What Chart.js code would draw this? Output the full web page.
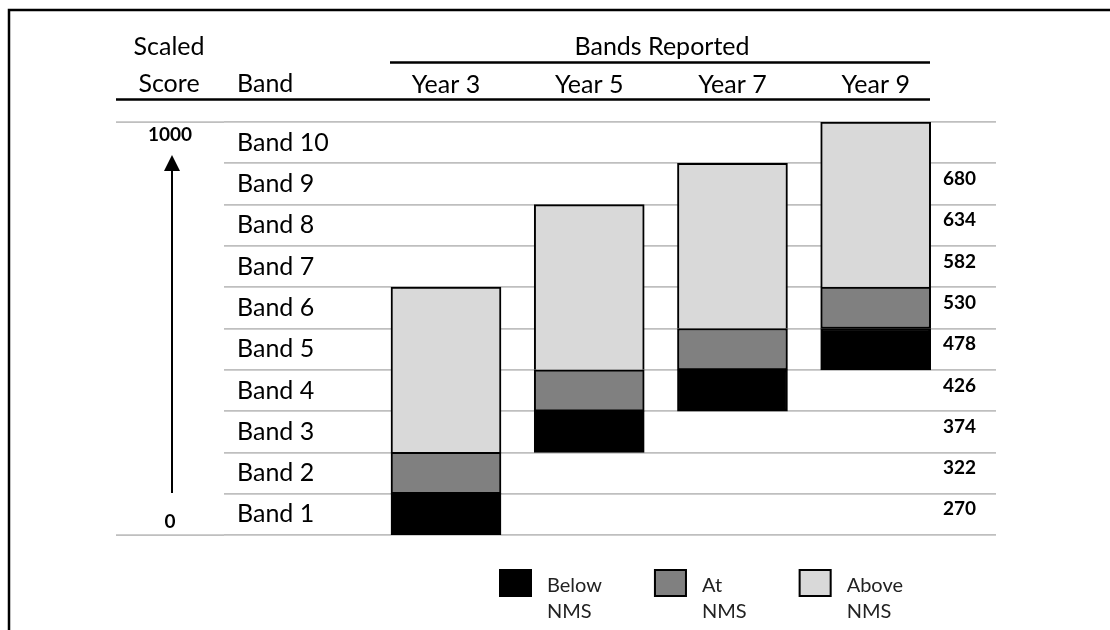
<!DOCTYPE html>
<html>
<head>
<meta charset="utf-8">
<script src="https://cdn.jsdelivr.net/npm/chart.js@4.4.1/dist/chart.umd.min.js"></script>
<style>
  html, body { margin: 0; padding: 0; background: #fff; }
  #wrap { width: 1110px; height: 630px; position: relative; }
</style>
</head>
<body>
<div id="wrap"><canvas id="bandsChart"></canvas></div>
<script>
// year levels and the bands each one reports
const yearLevels = [3, 5, 7, 9];
const yearLabels = ["Year 3", "Year 5", "Year 7", "Year 9"];
const belowBand = [1, 3, 4, 5];    // band below the NMS
const nmsBand = [2, 4, 5, 6];      // the NMS band
const topBand = [6, 8, 9, 10];     // highest band reported
const bandLabels = ["Band 1", "Band 2", "Band 3", "Band 4", "Band 5",
  "Band 6", "Band 7", "Band 8", "Band 9", "Band 10"];
const cutScores = ["270", "322", "374", "426", "478", "530", "582", "634", "680", ""];
const scaleEnds = ["0", "1000"];
const seriesLabels = ["Below NMS", "At NMS", "Above NMS"];
const seriesColors = ["#000000", "#808080", "#d9d9d9"];

const FONT = "Lato";

// extra drawing: frame, header rows, scale arrow and the legend
const decor = {
  id: "decor",
  afterDraw(chart) {
    const { ctx, chartArea: ca, scales } = chart;
    const y = scales.y;
    const yTop = y.getPixelForValue(10);
    const yBot = y.getPixelForValue(0);
    ctx.save();

    // frame
    ctx.strokeStyle = "#000";
    ctx.lineWidth = 2.5;
    ctx.beginPath();
    ctx.moveTo(9, 630);
    ctx.lineTo(9, 10);
    ctx.lineTo(1110, 10);
    ctx.stroke();

    // header rules
    ctx.lineWidth = 2.5;
    ctx.beginPath();
    ctx.moveTo(390, 62.5);
    ctx.lineTo(930, 62.5);
    ctx.moveTo(116, 99.5);
    ctx.lineTo(930, 99.5);
    ctx.stroke();

    // first and last grid lines run out under the score column
    ctx.strokeStyle = "#bfbfbf";
    ctx.lineWidth = 1.75;
    ctx.beginPath();
    [yTop, yBot].forEach(p => { ctx.moveTo(116, p); ctx.lineTo(ca.left, p); });
    ctx.stroke();

    // header text
    ctx.fillStyle = "#000";
    ctx.font = "25px " + FONT;
    ctx.textBaseline = "alphabetic";
    ctx.textAlign = "center";
    ctx.fillText("Scaled", 169, 55);
    ctx.fillText("Score", 169, 92);
    ctx.fillText("Bands Reported", 662, 55);
    ctx.textAlign = "left";
    ctx.fillText("Band", 237, 92);

    // score arrow
    ctx.font = "bold 19px " + FONT;
    ctx.textAlign = "center";
    ctx.textBaseline = "middle";
    ctx.fillText(scaleEnds[1], 170, yTop + 13);
    ctx.fillText(scaleEnds[0], 170, yBot - 13);
    ctx.strokeStyle = "#000";
    ctx.lineWidth = 2;
    ctx.beginPath();
    ctx.moveTo(172, yBot - 42);
    ctx.lineTo(172, yTop + 45);
    ctx.stroke();
    ctx.beginPath();
    ctx.moveTo(172, yTop + 33);
    ctx.lineTo(164, yTop + 49);
    ctx.lineTo(180, yTop + 49);
    ctx.closePath();
    ctx.fill();

    // legend
    let lx = 499;
    const ly = 569;
    ctx.font = "20px " + FONT;
    ctx.textAlign = "left";
    chart.data.datasets.forEach(ds => {
      ctx.fillStyle = ds.backgroundColor;
      ctx.fillRect(lx, ly, 33, 28);
      ctx.strokeStyle = "#000";
      ctx.lineWidth = 2;
      ctx.strokeRect(lx + 1, ly + 1, 31, 26);
      const lines = ds.label.split(" ");
      ctx.fillStyle = "#222";
      let w = 0;
      lines.forEach((t, k) => {
        ctx.fillText(t, lx + 48, ly + 17 + k * 26);
        w = Math.max(w, ctx.measureText(t).width);
      });
      lx += 48 + w + 52;
    });

    ctx.restore();
  }
};

const ctx = document.getElementById("bandsChart").getContext("2d");

new Chart(ctx, {
  type: "bar",
  data: {
    datasets: [
      {
        label: seriesLabels[0],
        data: yearLevels.map((x, i) => ({ x, y: [belowBand[i] - 1, belowBand[i]] })),
        backgroundColor: seriesColors[0],
        borderColor: "#000",
        borderWidth: 2
      },
      {
        label: seriesLabels[1],
        data: yearLevels.map((x, i) => ({ x, y: [nmsBand[i] - 1, nmsBand[i]] })),
        backgroundColor: seriesColors[1],
        borderColor: "#000",
        borderWidth: 2
      },
      {
        label: seriesLabels[2],
        data: yearLevels.map((x, i) => ({ x, y: [nmsBand[i], topBand[i]] })),
        backgroundColor: seriesColors[2],
        borderColor: "#000",
        borderWidth: { top: 2, left: 2, right: 2, bottom: 0 }
      }
    ]
  },
  options: {
    responsive: true,
    maintainAspectRatio: false,
    animation: false,
    layout: { padding: { left: 224, right: 114, top: 67, bottom: 95 } },
    datasets: {
      bar: { grouped: false, barThickness: 110, borderSkipped: false }
    },
    scales: {
      x: {
        type: "linear",
        position: "top",
        offset: false,
        min: -0.1,
        max: 10.68,
        grid: { display: false, drawTicks: false },
        border: { display: false },
        afterBuildTicks: s => { s.ticks = yearLevels.map(v => ({ value: v })); },
        afterFit: s => { s.height = 55; },
        ticks: {
          padding: 22,
          color: "#000",
          font: { family: FONT, size: 25 },
          callback: (v) => yearLabels[yearLevels.indexOf(v)]
        }
      },
      y: {
        type: "linear",
        display: false,
        min: 0,
        max: 10
      },
      yBand: {
        type: "category",
        position: "left",
        labels: bandLabels,
        reverse: true,
        offset: true,
        grid: { offset: true, color: "#bfbfbf", lineWidth: 1.75, drawTicks: false },
        border: { display: false },
        afterFit: s => { s.width = 0; },
        ticks: {
          mirror: true,
          padding: 13,
          color: "#000",
          font: { family: FONT, size: 25 }
        }
      },
      yScore: {
        type: "category",
        position: "right",
        labels: cutScores,
        reverse: true,
        offset: true,
        grid: { display: false, drawTicks: false },
        border: { display: false },
        afterFit: s => { s.width = 0; },
        ticks: {
          mirror: true,
          crossAlign: "near",
          padding: -20,
          labelOffset: -5,
          color: "#000",
          font: { family: FONT, size: 19, weight: "bold" }
        }
      }
    },
    plugins: {
      legend: { display: false },
      tooltip: { enabled: false }
    }
  },
  plugins: [decor]
});
</script>
</body>
</html>
